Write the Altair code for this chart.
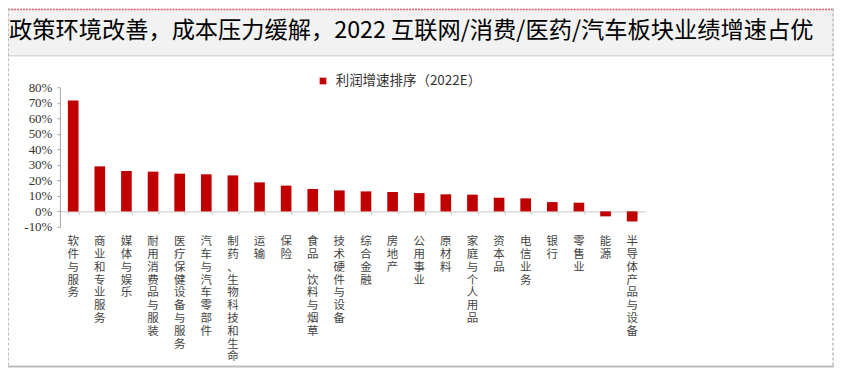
import altair as alt
import pandas as pd

# ---------------- data ----------------
categories = [
    "软件与服务", "商业和专业服务", "媒体与娱乐", "耐用消费品与服装", "医疗保健设备与服务",
    "汽车与汽车零部件", "制药、生物科技和生命", "运输", "保险", "食品、饮料与烟草",
    "技术硬件与设备", "综合金融", "房地产", "公用事业", "原材料", "家庭与个人用品",
    "资本品", "电信业务", "银行", "零售业", "能源", "半导体产品与设备",
]
growth_pct = [71.5, 29.0, 26.0, 25.6, 24.3, 23.9, 23.2, 18.7, 16.6, 14.4, 13.5,
              12.9, 12.5, 11.8, 11.0, 10.8, 8.8, 8.4, 6.0, 5.6, -3.2, -6.5]
series_name = "利润增速排序（2022E）"
title_text = "政策环境改善，成本压力缓解，2022 互联网/消费/医药/汽车板块业绩增速占优"
y_ticks = [-0.1, 0.0, 0.1, 0.2, 0.3, 0.4, 0.5, 0.6, 0.7, 0.8]

df = pd.DataFrame({
    "industry": categories,
    "growth": [v / 100 for v in growth_pct],
    "series": series_name,
})
one = pd.DataFrame({"k": [0]})

W, H = 587, 140
PL, PT = 52, 79
TOTAL_W, TOTAL_H = 828, 360

RED = "#c00000"
CJK = "Noto Sans CJK SC"

y_scale = alt.Scale(domain=[-0.1, 0.8], nice=False, zero=False)
x_scale = alt.Scale(paddingInner=0.6, paddingOuter=0.3)
zero_offset = -H * 10 / 90

y_axis = alt.Axis(values=y_ticks, format=".0%", grid=False, tickSize=3,
                  domainColor="#a6a6a6", tickColor="#a6a6a6",
                  labelExpr="replace(datum.label, '−', '-')",
                  labelFont="Liberation Serif", labelFontSize=13,
                  labelColor="#333333", labelPadding=5)

# ---------------- decorations ----------------
band = alt.Chart(one).mark_rect(color="#f2f2f2").encode(
    x=alt.value(-PL), x2=alt.value(TOTAL_W - PL),
    y=alt.value(-PT), y2=alt.value(-PT + 47),
)
sep = alt.Chart(one).mark_rule(color="#c9c9c9", strokeWidth=1).encode(
    x=alt.value(-PL), x2=alt.value(TOTAL_W - PL), y=alt.value(-PT + 47.5),
)
top_line = alt.Chart(one).mark_rule(color="#e06070", strokeWidth=1.5, strokeDash=[2, 1]).encode(
    x=alt.value(-PL), x2=alt.value(TOTAL_W - PL), y=alt.value(-PT + 1),
)
left_line = alt.Chart(one).mark_rule(color="#bdbdbd", strokeWidth=1, strokeDash=[3, 2]).encode(
    x=alt.value(-PL + 0.5), y=alt.value(-PT), y2=alt.value(TOTAL_H - PT),
)
right_line = alt.Chart(one).mark_rule(color="#bdbdbd", strokeWidth=1.5, strokeDash=[3, 2]).encode(
    x=alt.value(TOTAL_W - PL - 1), y=alt.value(-PT), y2=alt.value(TOTAL_H - PT),
)
bottom_line = alt.Chart(one).mark_rule(color="#bdbdbd", strokeWidth=2).encode(
    x=alt.value(-PL), x2=alt.value(TOTAL_W - PL), y=alt.value(TOTAL_H - PT - 1),
)
title = alt.Chart(one).mark_text(
    text=title_text, align="left", baseline="middle", font=CJK, fontSize=23.3, color="#000000",
).encode(x=alt.value(-PL + 1), y=alt.value(-PT + 23))

# ---------------- bars ----------------
bars = alt.Chart(df).mark_bar(color=RED).encode(
    x=alt.X("industry:N", sort=None, scale=x_scale, title=None,
            axis=alt.Axis(orient="bottom", domain=False, ticks=False, tickSize=0,
                          labelAngle=0, labelAlign="center", labelBaseline="top",
                          labelExpr="split(datum.label, '')", labelLineHeight=12.8,
                          labelFont=CJK, labelFontSize=11.5, labelColor="#444444",
                          labelPadding=9, labelOverlap=False, labelLimit=0)),
    y=alt.Y("growth:Q", scale=y_scale, title=None, axis=y_axis),
    color=alt.Color("series:N", scale=alt.Scale(range=[RED]),
                    legend=alt.Legend(orient="none", legendX=257, legendY=-13, title=None,
                                      symbolType="square", symbolSize=45, padding=0,
                                      labelFont=CJK, labelFontSize=13.5, labelColor="#333333",
                                      labelOffset=6)),
)

zero_axis = alt.Chart(df).mark_bar(opacity=0).encode(
    x=alt.X("industry:N", sort=None, scale=x_scale, title=None,
            axis=alt.Axis(orient="bottom", labels=False, domain=True, ticks=True,
                          tickBand="extent", tickSize=3, offset=zero_offset,
                          domainColor="#c8c8c8", tickColor="#c8c8c8")),
    y=alt.Y("growth:Q", scale=y_scale, title=None, axis=y_axis),
)

chart = alt.layer(
    band, sep, top_line, left_line, right_line, bottom_line, title, zero_axis, bars
).resolve_axis(x="independent").resolve_scale(x="shared").properties(
    width=W, height=H,
    autosize="none",
    background="white",
    padding={"left": PL, "top": PT, "right": TOTAL_W - PL - W, "bottom": TOTAL_H - PT - H},
).configure_view(stroke=None)

chart.save("out.html", embed_options={"renderer": "svg", "actions": False})
